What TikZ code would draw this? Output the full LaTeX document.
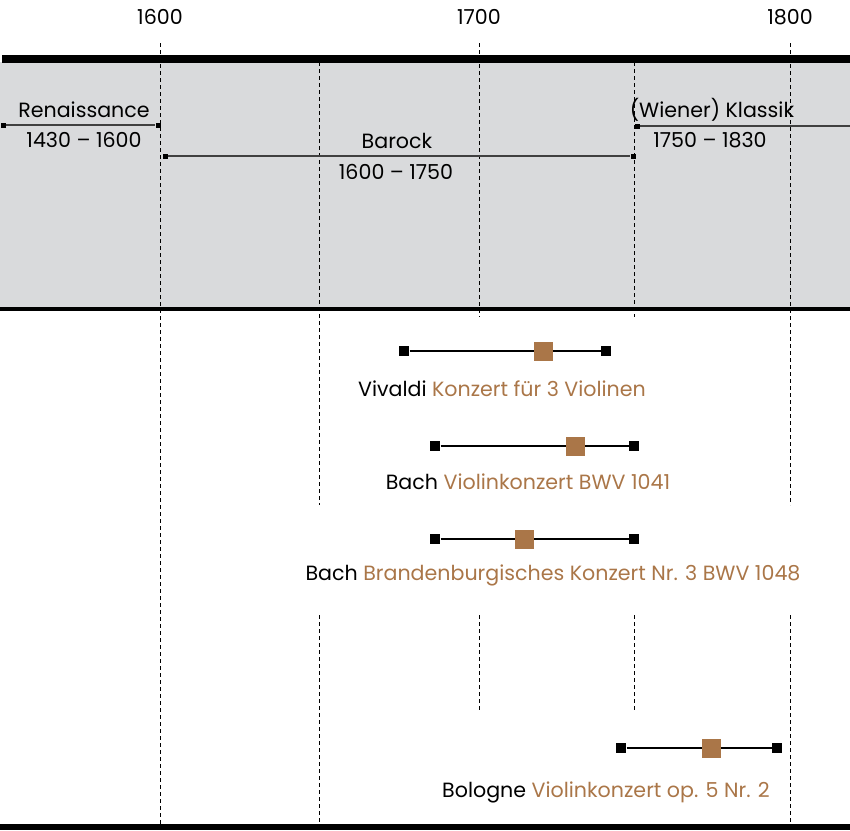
\documentclass[tikz,border=0pt]{standalone}
\usepackage{fontspec}
\setmainfont{Poppins}
\usetikzlibrary{positioning,calc}
\definecolor{bandgray}{HTML}{D9DADC}
\definecolor{werk}{HTML}{AA7648}
\definecolor{epoche}{HTML}{404040}

\begin{document}
\begin{tikzpicture}[
  x=1pt, y=-1pt, font=\fontsize{20.6}{24}\selectfont, line width=1pt,
  raster/.style={dash pattern=on 4pt off 3pt, line width=1pt},
  grenze/.style={fill=black, inner sep=0pt, minimum size=5pt},
  lebensende/.style={fill=black, inner sep=0pt, minimum size=10pt},
  werkjahr/.style={fill=werk, inner sep=0pt, minimum size=19pt},
  zeitraum/.style={draw=epoche, line width=2pt}
]
\useasboundingbox (0,0) rectangle (850,830);

\fill[bandgray] (0,62) rectangle (850,308);

% year grid
\foreach \x/\a/\b in {160/43/830, 319/62/505, 319/615/826, 479/43/317,
  479/615/712, 634/62/317, 634/615/712, 790/43/505, 790/615/826} {
  \draw[raster] (\x,\a) -- (\x,\b);
}
\foreach \x/\j in {160/1600, 479/1700, 790/1800} {
  \node (j\j) at (\x,17) {\j};
}

\draw[line width=8pt] (2,59) -- (850,59);
\draw[line width=4pt] (0,309) -- (850,309);
\draw[line width=6pt] (0,827) -- (850,827);

% epochs
\node[grenze] (ren-a) at (3,125) {};
\node[grenze] (ren-b) at (158,125) {};
\draw[zeitraum] (ren-a) -- (ren-b);
\node (ren) at (84,110) {Renaissance};
\node (ren-j) at (84,140) {1430 – 1600};

\node[grenze] (bar-a) at (165,156) {};
\node[grenze] (bar-b) at (633,156) {};
\draw[zeitraum] (bar-a) -- (bar-b);
\node (bar) at (397,141) {Barock};
\node (bar-j) at (396,172) {1600 – 1750};

\node[grenze] (kla-a) at (637,126) {};
\coordinate (kla-b) at (850,126);
\draw[zeitraum] (kla-a) -- (kla-b);
\node (kla) at (712,110) {(Wiener) Klassik};
\node (kla-j) at (710,140) {1750 – 1830};

% works
\foreach \n/\y/\a/\w/\b/\lx/\ly/\wer/\werk in {
  viv/351/404/543/606/502/389/Vivaldi/Konzert für 3 Violinen,
  bwv/446/435/575/634/528/482/Bach/Violinkonzert BWV 1041,
  bra/539/435/524/634/553/575/Bach/Brandenburgisches Konzert Nr. 3 BWV 1048,
  bol/748/621/711/777/606/792/Bologne/Violinkonzert op. 5 Nr. 2} {
  \node[lebensende] (\n-a) at (\a,\y) {};
  \node[lebensende] (\n-b) at (\b,\y) {};
  \draw[line width=2pt] (\n-a) -- (\n-b);
  \node[werkjahr] (\n-w) at (\w,\y) {};
  \node (\n-txt) at (\lx,\ly) {\wer{} \textcolor{werk}{\werk}};
}
\end{tikzpicture}
\end{document}
